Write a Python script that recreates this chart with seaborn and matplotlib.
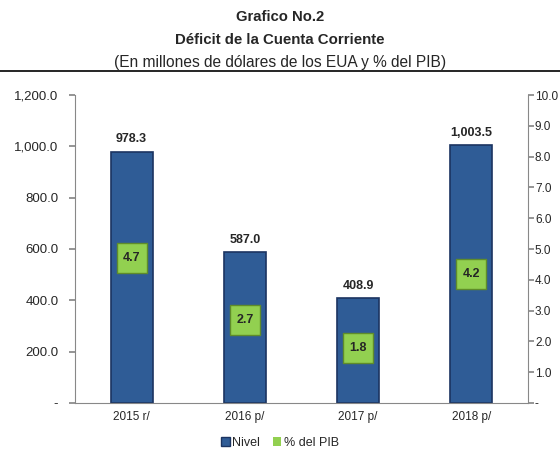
import numpy as np
import pandas as pd
import seaborn as sns
import matplotlib.pyplot as plt

years = ['2015 r/', '2016 p/', '2017 p/', '2018 p/']
nivel = [978.3, 587.0, 408.9, 1003.5]
pct_pib = [4.7, 2.7, 1.8, 4.2]
left_ticks = [0, 200, 400, 600, 800, 1000, 1200]
right_ticks = [0, 1, 2, 3, 4, 5, 6, 7, 8, 9, 10]

sns.set_theme(style='white')
plt.rcParams['font.family'] = ['Liberation Sans', 'DejaVu Sans']

df = pd.DataFrame({'year': years, 'nivel': nivel, 'pct': pct_pib})

fig = plt.figure(figsize=(5.6, 4.54), dpi=100)
ax = fig.add_axes([75 / 560, 1 - 403 / 454, (528 - 75) / 560, (403 - 95) / 454])

bar_col = '#2F5C96'
green = '#92D050'
sns.barplot(data=df, x='year', y='nivel', color=bar_col, width=0.37,
            edgecolor='#1B3461', linewidth=1.2, saturation=1, ax=ax)
ax.set_ylim(0, 1200)
ax.set_yticks(left_ticks)
ax.set_yticklabels(['-'] + [f'{v:,.1f}' for v in left_ticks[1:]], fontsize=9.5)
ax.set_xlabel('')
ax.set_ylabel('')
ax.tick_params(axis='x', labelsize=8.5, length=0, pad=6)
ax.tick_params(axis='y', left=True, length=4, color='#888888', pad=8)
for s in ['top', 'right']:
    ax.spines[s].set_visible(False)
for s in ['left', 'bottom']:
    ax.spines[s].set_color('#888888')
    ax.spines[s].set_linewidth(0.8)

for i, v in enumerate(nivel):
    ax.text(i, v + 25, f'{v:,.1f}', ha='center', va='bottom', fontsize=9, fontweight='bold')

ax2 = ax.twinx()
sns.scatterplot(data=df, x='year', y='pct', marker='s', s=450, color=green,
                edgecolor='#5F8C2A', linewidth=1, ax=ax2, legend=False, zorder=5)
ax2.set_ylim(0, 10)
ax2.set_yticks(right_ticks)
ax2.set_yticklabels(['-'] + [f'{v:.1f}' for v in right_ticks[1:]], fontsize=8.5)
ax2.set_ylabel('')
ax2.tick_params(axis='y', right=True, length=4, color='#888888', pad=1)
for s in ['top', 'left', 'bottom']:
    ax2.spines[s].set_visible(False)
ax2.spines['right'].set_color('#888888')
ax2.spines['right'].set_linewidth(0.8)
for i, v in enumerate(pct_pib):
    ax2.text(i, v, f'{v:.1f}', ha='center', va='center', fontsize=9, fontweight='bold', zorder=6)
ax.set_xlim(-0.5, 3.5)

fig.text(0.5, 1 - 17 / 454, 'Grafico No.2', ha='center', va='center', fontsize=10.7, fontweight='bold')
fig.text(0.5, 1 - 40 / 454, 'Déficit de la Cuenta Corriente', ha='center', va='center',
         fontsize=10.8, fontweight='bold')
fig.text(0.5, 1 - 62 / 454, '(En millones de dólares de los EUA y % del PIB)', ha='center',
         va='center', fontsize=11.2)
fig.add_artist(plt.Line2D([0, 1], [1 - 71 / 454, 1 - 71 / 454], color='black', linewidth=1.2))

handles = [plt.Rectangle((0, 0), 1, 1, facecolor=bar_col, edgecolor='#1B3461'),
           plt.Rectangle((0, 0), 1, 1, facecolor=green, edgecolor='none')]
fig.legend(handles, ['Nivel', '% del PIB'], loc='center', bbox_to_anchor=(0.5, 1 - 443 / 454),
           ncol=2, frameon=False, fontsize=9, handlelength=0.7, handleheight=0.7,
           handletextpad=0.2, columnspacing=1.0)

fig.savefig('out.png', dpi=100)
